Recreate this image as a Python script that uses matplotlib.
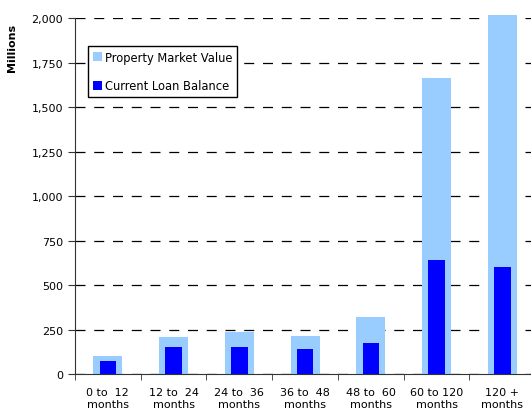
import numpy as np
import matplotlib.pyplot as plt
from matplotlib.ticker import FuncFormatter

# Categorias e valores (milhões)
categorias = ['0 to  12\nmonths', '12 to  24\nmonths', '24 to  36\nmonths', '36 to  48\nmonths',
              '48 to  60\nmonths', '60 to 120\nmonths', '120 +\nmonths']
valor_mercado = [100, 208, 236, 213, 320, 1663, 2017]
saldo_emprestimo = [73, 152, 152, 140, 174, 640, 601]

plt.rcParams['font.family'] = 'DejaVu Sans'
fig = plt.figure(figsize=(5.31, 4.14), dpi=100)
ax = fig.add_axes([0.141, 0.094, 0.867, 0.860])
ax.set_axisbelow(True)

x = np.arange(len(categorias))
barras_claras = ax.bar(x, valor_mercado, width=0.44, color='#99ccff', label='Property Market Value', zorder=2)
for b in barras_claras:
    b.set_clip_on(False)                      # a última barra passa um pouco de 2.000
ax.bar(x, saldo_emprestimo, width=0.25, color='#0000ff', label='Current Loan Balance', zorder=3)

ax.set_xlim(-0.5, len(categorias) - 0.5)
ax.set_ylim(0, 2000)
ax.set_yticks(np.arange(0, 2001, 250))
ax.yaxis.set_major_formatter(FuncFormatter(lambda v, p: f'{v:,.0f}'))
ax.yaxis.grid(True, linestyle=(0, (8, 7)), color='black', linewidth=0.9)

ax.set_xticks(x)
ax.set_xticklabels(categorias, fontsize=8, linespacing=1.25)
ax.tick_params(axis='x', which='major', length=0, pad=9)
ax.set_xticks(np.arange(-0.5, len(categorias), 1), minor=True)
ax.tick_params(axis='x', which='minor', length=4, color='#333333')
ax.tick_params(axis='y', labelsize=8, length=5, color='#333333')

for s in ['top', 'right']:
    ax.spines[s].set_visible(False)
ax.spines['left'].set_color('#333333')
ax.spines['bottom'].set_color('#333333')

ax.set_ylabel('Millions', fontsize=8, fontweight='bold')
ax.yaxis.set_label_coords(-0.125, 0.92)

leg = ax.legend(loc='upper left', bbox_to_anchor=(0.016, 0.937), fontsize=8.3,
                frameon=True, fancybox=False, edgecolor='black', framealpha=1,
                handlelength=0.8, handleheight=0.8, handletextpad=0.3,
                labelspacing=1.34, borderpad=0.4)
leg.get_frame().set_linewidth(1.0)

plt.savefig('out.png', dpi=100)
